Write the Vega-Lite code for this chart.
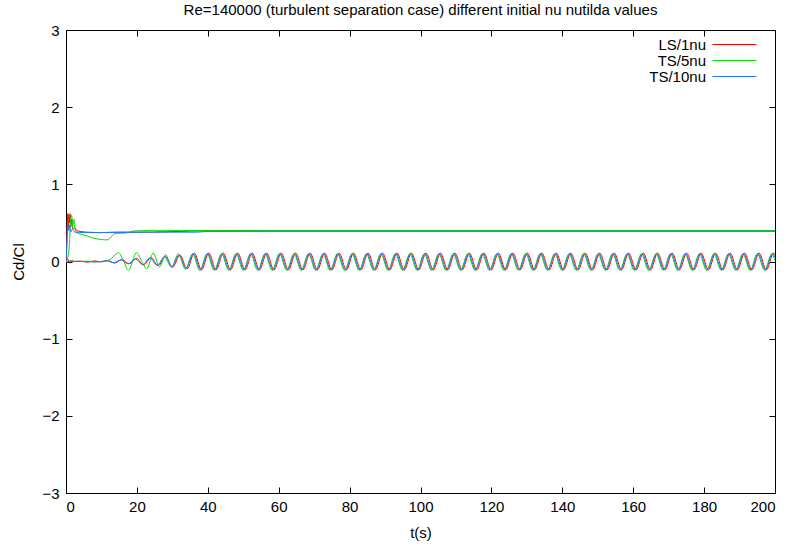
{
"$schema": "https://vega.github.io/schema/vega-lite/v6.json",
"width": 709, "height": 463,
"autosize": {"type": "none"},
"padding": {"left": 66, "top": 30, "right": 16, "bottom": 55},
"title": {"text": "Re=140000 (turbulent separation case) different initial nu nutilda values", "font": "Liberation Sans", "fontSize": 15, "fontWeight": "normal", "color": "black", "anchor": "middle", "offset": 5},
"datasets": {
"r": [
{"c":"d","t":0,"y":0},{"c":"d","t":0.2,"y":0.15},{"c":"d","t":0.4,"y":0.55},{"c":"d","t":0.55,"y":0.62},{"c":"d","t":0.7,"y":0.42},{"c":"d","t":0.85,"y":0.6},{"c":"d","t":1.0,"y":0.5},{"c":"d","t":1.15,"y":0.62},{"c":"d","t":1.35,"y":0.45},{"c":"d","t":1.6,"y":0.55},{"c":"d","t":1.9,"y":0.42},{"c":"d","t":2.4,"y":0.44},{"c":"d","t":3,"y":0.4},{"c":"d","t":4,"y":0.39},{"c":"d","t":6,"y":0.38},{"c":"d","t":10,"y":0.375},{"c":"d","t":14,"y":0.38},{"c":"d","t":20,"y":0.38},{"c":"d","t":28,"y":0.385},{"c":"d","t":33,"y":0.39},{"c":"d","t":36,"y":0.395},{"c":"d","t":50,"y":0.395},{"c":"d","t":200,"y":0.395},
{"c":"l","t":0,"y":0},{"c":"l","t":0.5,"y":0.03},{"c":"l","t":1,"y":-0.02},{"c":"l","t":1.5,"y":0.01},{"c":"l","t":2.5,"y":0},{"c":"l","t":4,"y":0.005},{"c":"l","t":6,"y":-0.008},{"c":"l","t":8,"y":0.008},{"c":"l","t":10,"y":-0.005},
{"c":"l","t":11.69,"y":0.012},{"c":"l","t":13.73,"y":-0.02},{"c":"l","t":15.78,"y":0.025},{"c":"l","t":17.82,"y":-0.03},{"c":"l","t":19.86,"y":0.04},{"c":"l","t":21.9,"y":-0.045},{"c":"l","t":23.95,"y":0.05},{"c":"l","t":25.99,"y":-0.055},{"c":"l","t":28.03,"y":0.065},{"c":"l","t":30.07,"y":-0.075},{"c":"l","t":32.12,"y":0.085},{"c":"l","t":34.16,"y":-0.095},
{"c":"l","t":36.2,"y":0.11},{"c":"l","t":38.24,"y":-0.11},{"c":"l","t":40.29,"y":0.11},{"c":"l","t":42.33,"y":-0.11},{"c":"l","t":44.37,"y":0.11},{"c":"l","t":46.41,"y":-0.11},{"c":"l","t":48.46,"y":0.11},{"c":"l","t":50.5,"y":-0.11},{"c":"l","t":52.54,"y":0.11},{"c":"l","t":54.58,"y":-0.11},{"c":"l","t":56.63,"y":0.11},{"c":"l","t":58.67,"y":-0.11},{"c":"l","t":60.71,"y":0.11},{"c":"l","t":62.75,"y":-0.11},{"c":"l","t":64.8,"y":0.11},{"c":"l","t":66.84,"y":-0.11},{"c":"l","t":68.88,"y":0.11},{"c":"l","t":70.92,"y":-0.11},{"c":"l","t":72.97,"y":0.11},{"c":"l","t":75.01,"y":-0.11},{"c":"l","t":77.05,"y":0.11},{"c":"l","t":79.09,"y":-0.11},{"c":"l","t":81.14,"y":0.11},{"c":"l","t":83.18,"y":-0.11},{"c":"l","t":85.22,"y":0.11},{"c":"l","t":87.26,"y":-0.11},{"c":"l","t":89.31,"y":0.11},{"c":"l","t":91.35,"y":-0.11},{"c":"l","t":93.39,"y":0.11},{"c":"l","t":95.43,"y":-0.11},{"c":"l","t":97.48,"y":0.11},{"c":"l","t":99.52,"y":-0.11},{"c":"l","t":101.56,"y":0.11},{"c":"l","t":103.6,"y":-0.11},{"c":"l","t":105.65,"y":0.11},{"c":"l","t":107.69,"y":-0.11},{"c":"l","t":109.73,"y":0.11},{"c":"l","t":111.77,"y":-0.11},{"c":"l","t":113.82,"y":0.11},{"c":"l","t":115.86,"y":-0.11},{"c":"l","t":117.9,"y":0.11},{"c":"l","t":119.94,"y":-0.11},{"c":"l","t":121.99,"y":0.11},{"c":"l","t":124.03,"y":-0.11},{"c":"l","t":126.07,"y":0.11},{"c":"l","t":128.11,"y":-0.11},{"c":"l","t":130.16,"y":0.11},{"c":"l","t":132.2,"y":-0.11},{"c":"l","t":134.24,"y":0.11},{"c":"l","t":136.28,"y":-0.11},{"c":"l","t":138.33,"y":0.11},{"c":"l","t":140.37,"y":-0.11},{"c":"l","t":142.41,"y":0.11},{"c":"l","t":144.45,"y":-0.11},{"c":"l","t":146.5,"y":0.11},{"c":"l","t":148.54,"y":-0.11},{"c":"l","t":150.58,"y":0.11},{"c":"l","t":152.62,"y":-0.11},{"c":"l","t":154.67,"y":0.11},{"c":"l","t":156.71,"y":-0.11},{"c":"l","t":158.75,"y":0.11},{"c":"l","t":160.79,"y":-0.11},{"c":"l","t":162.84,"y":0.11},{"c":"l","t":164.88,"y":-0.11},{"c":"l","t":166.92,"y":0.11},{"c":"l","t":168.96,"y":-0.11},{"c":"l","t":171.01,"y":0.11},{"c":"l","t":173.05,"y":-0.11},{"c":"l","t":175.09,"y":0.11},{"c":"l","t":177.13,"y":-0.11},{"c":"l","t":179.18,"y":0.11},{"c":"l","t":181.22,"y":-0.11},{"c":"l","t":183.26,"y":0.11},{"c":"l","t":185.3,"y":-0.11},{"c":"l","t":187.35,"y":0.11},{"c":"l","t":189.39,"y":-0.11},{"c":"l","t":191.43,"y":0.11},{"c":"l","t":193.47,"y":-0.11},{"c":"l","t":195.52,"y":0.11},{"c":"l","t":197.56,"y":-0.11},{"c":"l","t":199.6,"y":0.11},{"c":"l","t":200,"y":0.088}
],
"g": [
{"c":"d","t":0,"y":0},{"c":"d","t":0.5,"y":0.05},{"c":"d","t":1.0,"y":0.25},{"c":"d","t":1.3,"y":0.55},{"c":"d","t":1.6,"y":0.6},{"c":"d","t":1.9,"y":0.45},{"c":"d","t":2.2,"y":0.55},{"c":"d","t":2.6,"y":0.4},{"c":"d","t":3.2,"y":0.37},{"c":"d","t":4.5,"y":0.35},{"c":"d","t":6,"y":0.33},{"c":"d","t":8,"y":0.3},{"c":"d","t":10,"y":0.285},{"c":"d","t":11.6,"y":0.28},{"c":"d","t":12.6,"y":0.31},{"c":"d","t":13.5,"y":0.355},{"c":"d","t":14.5,"y":0.365},{"c":"d","t":17,"y":0.37},{"c":"d","t":19,"y":0.395},{"c":"d","t":22,"y":0.4},{"c":"d","t":25,"y":0.405},{"c":"d","t":26,"y":0.4},{"c":"d","t":28,"y":0.405},{"c":"d","t":32,"y":0.4},{"c":"d","t":40,"y":0.402},{"c":"d","t":200,"y":0.402},
{"c":"l","t":0,"y":0},{"c":"l","t":2,"y":0.005},{"c":"l","t":4,"y":0},{"c":"l","t":6,"y":0.005},{"c":"l","t":8,"y":-0.005},{"c":"l","t":10,"y":0},{"c":"l","t":11.2,"y":0.005},{"c":"l","t":12.8,"y":0.04},{"c":"l","t":14.8,"y":0.115},{"c":"l","t":16.3,"y":0},{"c":"l","t":17.6,"y":-0.115},{"c":"l","t":19.9,"y":0.115},{"c":"l","t":21.4,"y":0},{"c":"l","t":22.8,"y":-0.095},{"c":"l","t":24.6,"y":0.11},{"c":"l","t":26.4,"y":-0.07},{"c":"l","t":28.1,"y":0.09},{"c":"l","t":29.8,"y":-0.07},{"c":"l","t":31.7,"y":0.1},{"c":"l","t":33.7,"y":-0.1},
{"c":"l","t":35.7,"y":0.1},{"c":"l","t":37.74,"y":-0.115},{"c":"l","t":39.79,"y":0.1},{"c":"l","t":41.83,"y":-0.115},{"c":"l","t":43.87,"y":0.1},{"c":"l","t":45.91,"y":-0.115},{"c":"l","t":47.96,"y":0.1},{"c":"l","t":50.0,"y":-0.115},{"c":"l","t":52.04,"y":0.1},{"c":"l","t":54.08,"y":-0.115},{"c":"l","t":56.13,"y":0.1},{"c":"l","t":58.17,"y":-0.115},{"c":"l","t":60.21,"y":0.1},{"c":"l","t":62.25,"y":-0.115},{"c":"l","t":64.3,"y":0.1},{"c":"l","t":66.34,"y":-0.115},{"c":"l","t":68.38,"y":0.1},{"c":"l","t":70.42,"y":-0.115},{"c":"l","t":72.47,"y":0.1},{"c":"l","t":74.51,"y":-0.115},{"c":"l","t":76.55,"y":0.1},{"c":"l","t":78.59,"y":-0.115},{"c":"l","t":80.64,"y":0.1},{"c":"l","t":82.68,"y":-0.115},{"c":"l","t":84.72,"y":0.1},{"c":"l","t":86.76,"y":-0.115},{"c":"l","t":88.81,"y":0.1},{"c":"l","t":90.85,"y":-0.115},{"c":"l","t":92.89,"y":0.1},{"c":"l","t":94.93,"y":-0.115},{"c":"l","t":96.98,"y":0.1},{"c":"l","t":99.02,"y":-0.115},{"c":"l","t":101.06,"y":0.1},{"c":"l","t":103.1,"y":-0.115},{"c":"l","t":105.15,"y":0.1},{"c":"l","t":107.19,"y":-0.115},{"c":"l","t":109.23,"y":0.1},{"c":"l","t":111.27,"y":-0.115},{"c":"l","t":113.32,"y":0.1},{"c":"l","t":115.36,"y":-0.115},{"c":"l","t":117.4,"y":0.1},{"c":"l","t":119.44,"y":-0.115},{"c":"l","t":121.49,"y":0.1},{"c":"l","t":123.53,"y":-0.115},{"c":"l","t":125.57,"y":0.1},{"c":"l","t":127.61,"y":-0.115},{"c":"l","t":129.66,"y":0.1},{"c":"l","t":131.7,"y":-0.115},{"c":"l","t":133.74,"y":0.1},{"c":"l","t":135.78,"y":-0.115},{"c":"l","t":137.83,"y":0.1},{"c":"l","t":139.87,"y":-0.115},{"c":"l","t":141.91,"y":0.1},{"c":"l","t":143.95,"y":-0.115},{"c":"l","t":146.0,"y":0.1},{"c":"l","t":148.04,"y":-0.115},{"c":"l","t":150.08,"y":0.1},{"c":"l","t":152.12,"y":-0.115},{"c":"l","t":154.17,"y":0.1},{"c":"l","t":156.21,"y":-0.115},{"c":"l","t":158.25,"y":0.1},{"c":"l","t":160.29,"y":-0.115},{"c":"l","t":162.34,"y":0.1},{"c":"l","t":164.38,"y":-0.115},{"c":"l","t":166.42,"y":0.1},{"c":"l","t":168.46,"y":-0.115},{"c":"l","t":170.51,"y":0.1},{"c":"l","t":172.55,"y":-0.115},{"c":"l","t":174.59,"y":0.1},{"c":"l","t":176.63,"y":-0.115},{"c":"l","t":178.68,"y":0.1},{"c":"l","t":180.72,"y":-0.115},{"c":"l","t":182.76,"y":0.1},{"c":"l","t":184.8,"y":-0.115},{"c":"l","t":186.85,"y":0.1},{"c":"l","t":188.89,"y":-0.115},{"c":"l","t":190.93,"y":0.1},{"c":"l","t":192.97,"y":-0.115},{"c":"l","t":195.02,"y":0.1},{"c":"l","t":197.06,"y":-0.115},{"c":"l","t":199.1,"y":0.1},{"c":"l","t":200,"y":0.01}
],
"b": [
{"c":"d","t":0,"y":0},{"c":"d","t":0.25,"y":0.25},{"c":"d","t":0.5,"y":0.5},{"c":"d","t":0.75,"y":0.4},{"c":"d","t":1.0,"y":0.47},{"c":"d","t":1.3,"y":0.38},{"c":"d","t":1.8,"y":0.42},{"c":"d","t":2.5,"y":0.38},{"c":"d","t":5,"y":0.375},{"c":"d","t":10,"y":0.375},{"c":"d","t":20,"y":0.38},{"c":"d","t":30,"y":0.38},{"c":"d","t":37,"y":0.38},{"c":"d","t":40,"y":0.39},{"c":"d","t":60,"y":0.392},{"c":"d","t":200,"y":0.392},
{"c":"l","t":0,"y":0},{"c":"l","t":0.4,"y":-0.01},{"c":"l","t":1,"y":0.01},{"c":"l","t":2,"y":0},{"c":"l","t":5,"y":0},{"c":"l","t":8,"y":-0.005},{"c":"l","t":10,"y":0},
{"c":"l","t":11.39,"y":0.01},{"c":"l","t":13.43,"y":-0.015},{"c":"l","t":15.48,"y":0.02},{"c":"l","t":17.52,"y":-0.03},{"c":"l","t":19.56,"y":0.035},{"c":"l","t":21.6,"y":-0.04},{"c":"l","t":23.65,"y":0.045},{"c":"l","t":25.69,"y":-0.05},{"c":"l","t":27.73,"y":0.06},{"c":"l","t":29.77,"y":-0.07},{"c":"l","t":31.82,"y":0.08},{"c":"l","t":33.86,"y":-0.09},
{"c":"l","t":35.9,"y":0.105},{"c":"l","t":37.94,"y":-0.11},{"c":"l","t":39.99,"y":0.105},{"c":"l","t":42.03,"y":-0.11},{"c":"l","t":44.07,"y":0.105},{"c":"l","t":46.11,"y":-0.11},{"c":"l","t":48.16,"y":0.105},{"c":"l","t":50.2,"y":-0.11},{"c":"l","t":52.24,"y":0.105},{"c":"l","t":54.28,"y":-0.11},{"c":"l","t":56.33,"y":0.105},{"c":"l","t":58.37,"y":-0.11},{"c":"l","t":60.41,"y":0.105},{"c":"l","t":62.45,"y":-0.11},{"c":"l","t":64.5,"y":0.105},{"c":"l","t":66.54,"y":-0.11},{"c":"l","t":68.58,"y":0.105},{"c":"l","t":70.62,"y":-0.11},{"c":"l","t":72.67,"y":0.105},{"c":"l","t":74.71,"y":-0.11},{"c":"l","t":76.75,"y":0.105},{"c":"l","t":78.79,"y":-0.11},{"c":"l","t":80.84,"y":0.105},{"c":"l","t":82.88,"y":-0.11},{"c":"l","t":84.92,"y":0.105},{"c":"l","t":86.96,"y":-0.11},{"c":"l","t":89.01,"y":0.105},{"c":"l","t":91.05,"y":-0.11},{"c":"l","t":93.09,"y":0.105},{"c":"l","t":95.13,"y":-0.11},{"c":"l","t":97.18,"y":0.105},{"c":"l","t":99.22,"y":-0.11},{"c":"l","t":101.26,"y":0.105},{"c":"l","t":103.3,"y":-0.11},{"c":"l","t":105.35,"y":0.105},{"c":"l","t":107.39,"y":-0.11},{"c":"l","t":109.43,"y":0.105},{"c":"l","t":111.47,"y":-0.11},{"c":"l","t":113.52,"y":0.105},{"c":"l","t":115.56,"y":-0.11},{"c":"l","t":117.6,"y":0.105},{"c":"l","t":119.64,"y":-0.11},{"c":"l","t":121.69,"y":0.105},{"c":"l","t":123.73,"y":-0.11},{"c":"l","t":125.77,"y":0.105},{"c":"l","t":127.81,"y":-0.11},{"c":"l","t":129.86,"y":0.105},{"c":"l","t":131.9,"y":-0.11},{"c":"l","t":133.94,"y":0.105},{"c":"l","t":135.98,"y":-0.11},{"c":"l","t":138.03,"y":0.105},{"c":"l","t":140.07,"y":-0.11},{"c":"l","t":142.11,"y":0.105},{"c":"l","t":144.15,"y":-0.11},{"c":"l","t":146.2,"y":0.105},{"c":"l","t":148.24,"y":-0.11},{"c":"l","t":150.28,"y":0.105},{"c":"l","t":152.32,"y":-0.11},{"c":"l","t":154.37,"y":0.105},{"c":"l","t":156.41,"y":-0.11},{"c":"l","t":158.45,"y":0.105},{"c":"l","t":160.49,"y":-0.11},{"c":"l","t":162.54,"y":0.105},{"c":"l","t":164.58,"y":-0.11},{"c":"l","t":166.62,"y":0.105},{"c":"l","t":168.66,"y":-0.11},{"c":"l","t":170.71,"y":0.105},{"c":"l","t":172.75,"y":-0.11},{"c":"l","t":174.79,"y":0.105},{"c":"l","t":176.83,"y":-0.11},{"c":"l","t":178.88,"y":0.105},{"c":"l","t":180.92,"y":-0.11},{"c":"l","t":182.96,"y":0.105},{"c":"l","t":185.0,"y":-0.11},{"c":"l","t":187.05,"y":0.105},{"c":"l","t":189.09,"y":-0.11},{"c":"l","t":191.13,"y":0.105},{"c":"l","t":193.17,"y":-0.11},{"c":"l","t":195.22,"y":0.105},{"c":"l","t":197.26,"y":-0.11},{"c":"l","t":199.3,"y":0.105},{"c":"l","t":200,"y":0.05}
]
},
"layer": [
{"data": {"name": "r"},
 "transform": [{"calculate": "'LS/1nu'", "as": "s"}],
 "mark": {"type": "line", "strokeWidth": 1, "interpolate": "monotone", "clip": true},
 "encoding": {
  "x": {"field": "t", "type": "quantitative", "scale": {"domain": [0, 200], "nice": false, "zero": false},
        "axis": {"orient": "bottom", "values": [0,20,40,60,80,100,120,140,160,180,200], "title": "t(s)", "labelPadding": 12, "titlePadding": 11}},
  "y": {"field": "y", "type": "quantitative", "scale": {"domain": [-3, 3], "nice": false, "zero": false},
        "axis": {"orient": "left", "values": [-3,-2,-1,0,1,2,3], "title": "Cd/Cl", "labelPadding": 13, "titlePadding": 15}},
  "detail": {"field": "c"},
  "color": {"field": "s", "type": "nominal",
            "scale": {"domain": ["LS/1nu", "TS/5nu", "TS/10nu"], "range": ["#ff0000", "#00dd00", "#1f78ff"]},
            "legend": {"title": null, "orient": "none", "legendX": 661, "legendY": 7, "symbolType": "M-4,0H4", "symbolSize": 121, "symbolStrokeWidth": 1, "labelAlign": "right", "labelOffset": -36, "labelFontSize": 15, "labelFont": "Liberation Sans", "labelColor": "black", "rowPadding": 0, "padding": 0}}
 }},
{"data": {"name": "g"},
 "transform": [{"calculate": "'TS/5nu'", "as": "s"}],
 "mark": {"type": "line", "strokeWidth": 1, "interpolate": "monotone", "clip": true},
 "encoding": {
  "x": {"field": "t", "type": "quantitative", "axis": null},
  "y": {"field": "y", "type": "quantitative", "axis": null},
  "detail": {"field": "c"},
  "color": {"field": "s", "type": "nominal"}
 }},
{"data": {"name": "b"},
 "transform": [{"calculate": "'TS/10nu'", "as": "s"}],
 "mark": {"type": "line", "strokeWidth": 1, "interpolate": "monotone", "clip": true},
 "encoding": {
  "x": {"field": "t", "type": "quantitative", "axis": {"orient": "top", "values": [0,20,40,60,80,100,120,140,160,180,200], "labels": false, "title": null}},
  "y": {"field": "y", "type": "quantitative", "axis": {"orient": "right", "values": [-3,-2,-1,0,1,2,3], "labels": false, "title": null}},
  "detail": {"field": "c"},
  "color": {"field": "s", "type": "nominal"}
 }}
],
"resolve": {"axis": {"x": "independent", "y": "independent"}},
"config": {
 "view": {"stroke": "black", "strokeWidth": 1},
 "font": "Liberation Sans",
 "axis": {"domain": false, "grid": false, "tickSize": -6, "tickColor": "black", "labelColor": "black", "labelFont": "Liberation Sans", "labelFontSize": 15, "titleFont": "Liberation Sans", "titleFontSize": 15, "titleFontWeight": "normal", "titleColor": "black"}
}
}
